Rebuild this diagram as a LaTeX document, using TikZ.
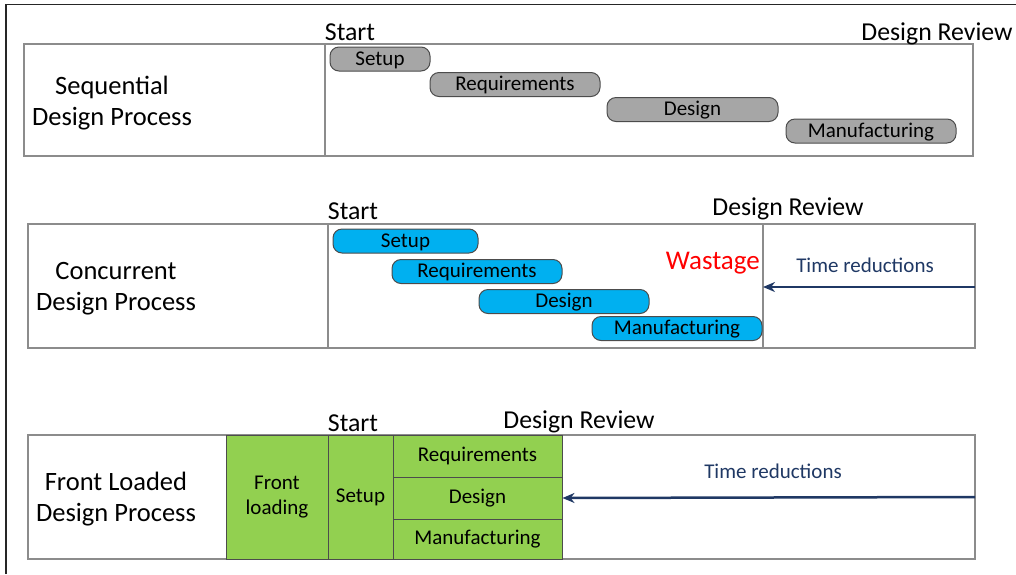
\documentclass[tikz,border=0pt]{standalone}
\usepackage{fontspec}
\setmainfont{Carlito}
\usetikzlibrary{arrows.meta}
\definecolor{barblue}{HTML}{00B0F0}
\definecolor{bargray}{HTML}{A6A6A6}
\definecolor{loadgreen}{HTML}{92D050}
\definecolor{navy}{HTML}{1F3864}
\tikzset{
  panel/.style={draw=black!45, line width=1.3pt},
  bar/.style={draw=black!70, line width=1pt, rounded corners=9pt, minimum height=24pt, inner sep=0pt,
    text height=13pt, text depth=1pt, font=\fontsize{21}{24}\selectfont},
  cell/.style={draw=black!70, line width=1pt, fill=loadgreen, inner sep=0pt, align=center,
    font=\fontsize{21}{25}\selectfont},
  title/.style={anchor=base, align=center, inner sep=0pt, font=\fontsize{26.5}{31}\selectfont},
  milestone/.style={anchor=base, inner sep=0pt, font=\fontsize{25.8}{30}\selectfont},
  timeline/.style={navy, line width=2.5pt, -{Stealth[length=12pt,width=10pt]}},
}
\begin{document}
\begin{tikzpicture}[x=1pt,y=-1pt]
    \useasboundingbox (0,0) rectangle (1016,574);
    \draw[black!85, line width=1.5pt] (6,574) -- (6,4.5) -- (1016,4.5);

    % sequential
    \draw[panel] (24,44) rectangle (973,156);
    \draw[panel] (325,44) -- (325,156);
    \node[title] (seqname) at (112,125) {Sequential\\Design Process};
    \node[milestone] (sstart) at (350,40) {Start};
    \node[milestone] (sdr) at (937,40) {Design Review};
    \foreach \n/\cx/\cy/\w/\txt in {sset/380/59/100/Setup, sreq/515/84.5/170/Requirements,
        sdes/692.5/109.5/171/Design, sman/871/131/170/Manufacturing}
        \node[bar, fill=bargray, minimum width=\w] (\n) at (\cx,\cy) {\txt};

    % concurrent
    \draw[panel] (28,224) rectangle (975,348);
    \draw[panel] (328,224) -- (328,348);
    \draw[panel] (763,224) -- (763,348);
    \node[title] (conname) at (116,310) {Concurrent\\Design Process};
    \node[milestone] (cstart) at (353,219) {Start};
    \node[milestone] (cdr) at (788,215) {Design Review};
    \foreach \n/\cx/\cy/\w/\txt in {cset/405.5/241/145/Setup, creq/477/271.5/170/Requirements,
        cdes/564/301.5/170/Design, cman/677/328.5/170/Manufacturing}
        \node[bar, fill=barblue, minimum width=\w] (\n) at (\cx,\cy) {\txt};
    \node[anchor=base east, inner sep=0pt, text=red, font=\fontsize{27}{30}\selectfont] (waste) at (760,269) {Wastage};
    \node[anchor=base, inner sep=0pt, text=navy, font=\fontsize{21}{24}\selectfont] (ctime) at (865,272) {Time reductions};
    \coordinate (cend) at (975,287);
    \coordinate (cdue) at (763,287);
    \draw[timeline] (cend) -- (cdue);

    % front loaded
    \draw[panel] (28,435) rectangle (975,559);
    \node[title] (frontname) at (116,521) {Front Loaded\\Design Process};
    \node[cell, minimum width=102, minimum height=124] (fload) at (277,497) {Front\\loading};
    \node[cell, minimum width=65, minimum height=124] (fset) at (360.5,497) {Setup};
    \node[cell, minimum width=169, minimum height=42] (freq) at (477.5,456) {Requirements};
    \node[cell, minimum width=169, minimum height=42] (fdes) at (477.5,498) {Design};
    \node[cell, minimum width=169, minimum height=40] (fman) at (477.5,539) {Manufacturing};
    \node[milestone] (fstart) at (353,431) {Start};
    \node[milestone] (fdr) at (579,428) {Design Review};
    \node[anchor=base, inner sep=0pt, text=navy, font=\fontsize{21}{24}\selectfont] (ftime) at (773,478) {Time reductions};
    \coordinate (fend) at (975,497);
    \draw[timeline] (fend) -- (fdes.east);
\end{tikzpicture}
\end{document}
